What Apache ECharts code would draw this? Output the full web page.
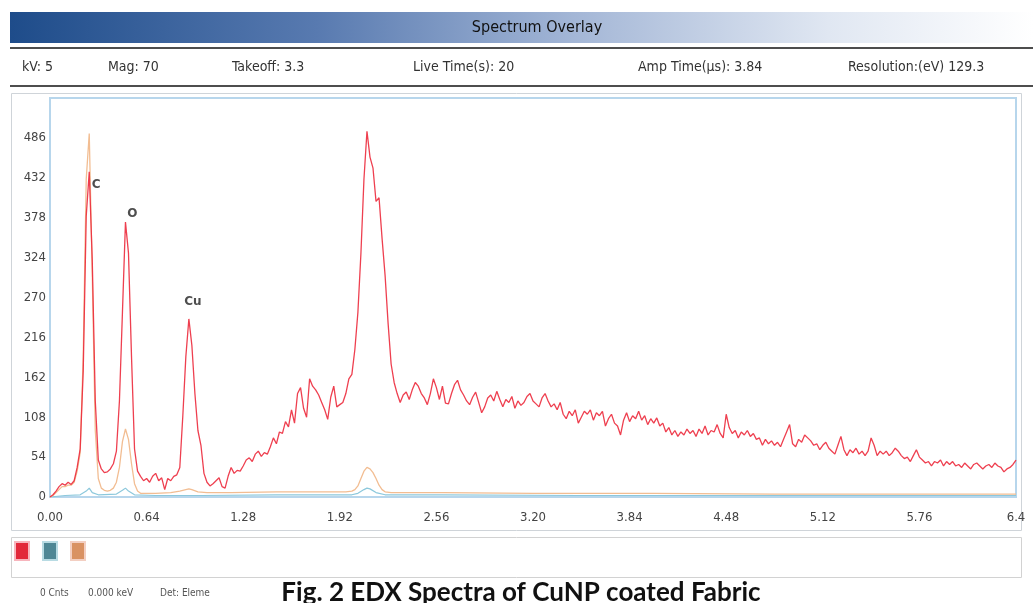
<!DOCTYPE html>
<html><head><meta charset="utf-8">
<script src="https://cdn.jsdelivr.net/npm/echarts@6/dist/echarts.min.js"></script>
<style>html,body{margin:0;padding:0;background:#fff}#c{width:1033px;height:603px}</style>
</head><body><div id="c"></div>
<script>
// ---- data ----
const energyStep = 0.02; // keV per channel of the red spectrum
const redCounts = [
0,3,8,14,18,16,20,17,22,40,65,170,380,440,320,
130,50,38,33,34,38,45,62,130,250,372,330,190,65,35,
28,22,25,20,28,32,22,26,10,25,22,28,30,40,110,
190,241,205,140,90,70,32,20,15,18,22,26,14,12,28,
40,32,36,35,42,50,53,48,58,62,55,60,58,68,80,
72,88,86,102,95,118,100,140,148,120,108,160,150,145,138,
128,118,105,135,150,122,125,128,140,160,166,200,250,330,430,
495,460,445,400,405,350,300,235,180,155,140,128,138,142,132,
145,155,150,140,134,125,140,160,148,132,150,127,126,140,152,
158,145,138,130,125,135,142,128,114,122,134,138,130,143,132,
122,132,128,136,120,130,124,128,136,140,130,126,122,134,140,
130,122,126,118,128,112,106,116,110,118,100,108,116,112,118,
104,114,110,116,96,106,112,100,96,84,104,114,102,110,106,
116,104,110,98,106,100,107,96,100,88,94,84,90,82,88,
84,92,86,90,82,92,86,96,84,90,88,98,86,80,112,
94,86,90,80,88,84,90,82,86,78,80,70,78,72,76,
70,74,68,78,88,98,72,68,78,74,84,80,76,70,72,
64,70,74,66,62,58,70,82,64,56,64,60,66,58,62,
56,62,80,70,56,62,58,62,56,60,66,62,56,52,54,
48,56,64,54,50,46,48,42,48,46,50,42,48,44,48,
42,44,40,46,42,38,44,46,42,38,42,44,40,46,42,
40,34,38,40,44,50
];
const orangeEnergy = [0,0.02,0.04,0.06,0.08,0.10,0.12,0.14,0.16,0.18,0.20,0.22,0.24,0.26,0.28,0.30,0.32,0.34,0.36,0.38,0.40,0.42,0.44,0.46,0.48,0.50,0.52,0.54,0.56,0.58,0.60,
0.70,0.80,0.86,0.90,0.92,0.94,0.98,1.04,1.20,1.50,1.80,1.96,2.00,
2.02,2.04,2.06,2.08,2.10,2.12,2.14,2.16,2.18,2.20,2.22,
2.26,2.60,3.20,4.00,4.80,5.60,6.40];
const orangeCounts = [0,2,6,10,14,14,16,16,20,35,60,190,430,492,300,90,25,12,9,8,9,12,20,40,75,92,78,45,18,8,5,
5,6,8,10,11,10,7,6,6,7,7,7,8,
10,15,25,35,40,38,33,25,16,10,7,
6,6,5,5,4,4,4];
const tealEnergy = [0,0.10,0.20,0.24,0.26,0.28,0.32,0.44,0.48,0.50,0.52,0.56,0.70,1.00,1.50,2.00,2.04,2.08,2.10,2.12,2.16,2.22,2.60,3.50,4.50,5.50,6.40];
const tealCounts = [0,2,3,8,12,6,3,4,9,12,8,3,2,2,3,3,5,10,12,11,6,3,3,2,2,2,2];
const xTickLabels = ['0.00','0.64','1.28','1.92','2.56','3.20','3.84','4.48','5.12','5.76','6.4'];
const yTickLabels = ['0','54','108','162','216','270','324','378','432','486'];
const peakNames = ['C','O','Cu'];
const peakEnergy = [0.26, 0.50, 0.92];
const peakCounts = [440, 372, 241];
const infoLabels = ['kV: 5','Mag: 70','Takeoff: 3.3','Live Time(s): 20','Amp Time(\u00b5s): 3.84','Resolution:(eV) 129.3'];
const statusLabels = ['0 Cnts','0.000 keV','Det: Eleme'];
const headerTitle = 'Spectrum Overlay';
const caption = 'Fig. 2 EDX Spectra of CuNP coated Fabric';

// ---- build ----
const NARROW = "'Liberation Sans Narrow','DejaVu Sans Condensed','Liberation Sans',sans-serif";
const redData = redCounts.map((v, i) => [+(i * energyStep).toFixed(2), v]);
const orangeData = orangeEnergy.map((e, i) => [e, orangeCounts[i]]);
const tealData = tealEnergy.map((e, i) => [e, tealCounts[i]]);
const labelOffsets = [[7, 13], [7, -8], [4, -17]];
const peakData = peakNames.map((n, i) => ({
  name: n, value: [peakEnergy[i], peakCounts[i]],
  label: { offset: labelOffsets[i] }
}));

const infoX = [22, 108, 232, 413, 638, 848];
const graphics = [
  { type: 'rect', shape: { x: 10, y: 12, width: 1023, height: 31 }, silent: true,
    style: { fill: new echarts.graphic.LinearGradient(0, 0, 1, 0, [
      { offset: 0, color: '#1e4c8a' }, { offset: 0.3, color: '#587ab0' },
      { offset: 0.55, color: '#a3b6d6' }, { offset: 0.8, color: '#e0e7f2' }, { offset: 1, color: '#ffffff' }]) } },
  { type: 'text', x: 537, y: 28, silent: true,
    style: { text: headerTitle, fill: '#111', font: '16px ' + NARROW, textAlign: 'center', textVerticalAlign: 'middle' } },
  { type: 'line', shape: { x1: 10, y1: 48, x2: 1033, y2: 48 }, style: { stroke: '#4d4d4d', lineWidth: 2 } },
  { type: 'line', shape: { x1: 10, y1: 86, x2: 1033, y2: 86 }, style: { stroke: '#4d4d4d', lineWidth: 2 } },
  { type: 'rect', shape: { x: 11.5, y: 93.5, width: 1010, height: 437 }, style: { fill: 'none', stroke: '#cfd4d9', lineWidth: 1 } },
  { type: 'rect', shape: { x: 11.5, y: 537.5, width: 1010, height: 40 }, style: { fill: 'none', stroke: '#d2d2d2', lineWidth: 1 } },
  { type: 'rect', shape: { x: 15, y: 542, width: 14, height: 18 }, style: { fill: '#e2283a', stroke: '#f7b5bd', lineWidth: 2 } },
  { type: 'rect', shape: { x: 43, y: 542, width: 14, height: 18 }, style: { fill: '#4f8795', stroke: '#b8dbe3', lineWidth: 2 } },
  { type: 'rect', shape: { x: 71, y: 542, width: 14, height: 18 }, style: { fill: '#d99263', stroke: '#f3cfc2', lineWidth: 2 } },
  { type: 'text', x: 521, y: 593, silent: true, z: 10,
    style: { text: caption, fill: '#111', font: 'bold 26px Lato, sans-serif', textAlign: 'center', textVerticalAlign: 'middle' } }
];
infoLabels.forEach((t, i) => graphics.push({ type: 'text', x: infoX[i], y: 67, silent: true,
  style: { text: t, fill: '#333', font: '14px ' + NARROW, textVerticalAlign: 'middle' } }));
const statusX = [40, 88, 160];
statusLabels.forEach((t, i) => graphics.push({ type: 'text', x: statusX[i], y: 593, silent: true,
  style: { text: t, fill: '#555', font: '10px ' + NARROW, textVerticalAlign: 'middle' } }));

const chart = echarts.init(document.getElementById('c'), null, { renderer: 'canvas' });
chart.setOption({
  animation: false,
  backgroundColor: '#fff',
  grid: { left: 50, right: 17, top: 98, bottom: 106, show: true, borderColor: '#b7d6ec', borderWidth: 2, backgroundColor: '#fff' },
  xAxis: {
    type: 'value', min: 0, max: 6.4, interval: 0.64,
    axisLine: { show: false }, axisTick: { show: false }, splitLine: { show: false },
    axisLabel: { color: '#444', fontSize: 13, fontFamily: NARROW, margin: 14,
      formatter: v => xTickLabels[Math.round(v / 0.64)] }
  },
  yAxis: {
    type: 'value', min: 0, max: 540, interval: 54,
    axisLine: { show: false }, axisTick: { show: false }, splitLine: { show: false },
    axisLabel: { color: '#444', fontSize: 13, fontFamily: NARROW, margin: 4,
      formatter: v => { const k = Math.round(v / 54); return k < yTickLabels.length ? yTickLabels[k] : ''; } }
  },
  series: [
    { type: 'line', data: tealData, symbol: 'none', lineStyle: { color: '#8cc8dc', width: 1.2 }, z: 2 },
    { type: 'line', data: orangeData, symbol: 'none', lineStyle: { color: '#f2bd92', width: 1.3 }, z: 3 },
    { type: 'line', data: redData, symbol: 'none', lineStyle: { color: '#ec2a3c', width: 1.3, opacity: 0.9 }, z: 4 },
    { type: 'scatter', data: peakData, symbolSize: 0, z: 5,
      label: { show: true, position: 'inside', formatter: p => p.name, color: '#222', fontWeight: 'bold', fontSize: 12, fontFamily: 'DejaVu Sans, sans-serif' } }
  ],
  graphic: graphics
});
</script></body></html>
